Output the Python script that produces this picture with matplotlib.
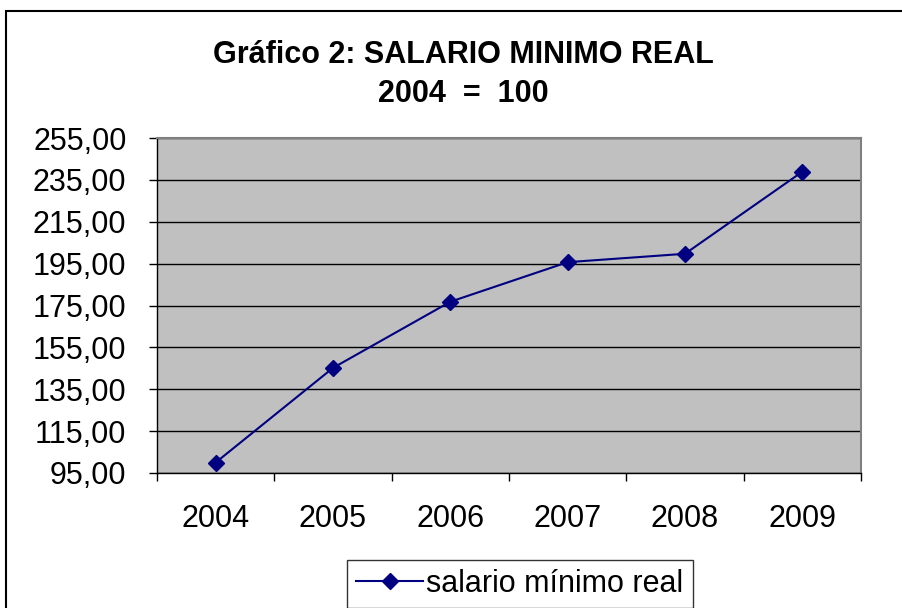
import numpy as np
import matplotlib.pyplot as plt
from matplotlib.patches import Rectangle
from matplotlib.ticker import FuncFormatter, FixedLocator

plt.rcParams['font.family'] = ['Liberation Sans', 'DejaVu Sans']

# datos
years = ['2004', '2005', '2006', '2007', '2008', '2009']
salario = [100.0, 145.2, 176.8, 195.7, 199.7, 238.9]
y_ticks = [95, 115, 135, 155, 175, 195, 215, 235, 255]

fig = plt.figure(figsize=(9.02, 6.08), dpi=100)
ax = fig.add_axes([157/902, 1 - 473/608, (861 - 157)/902, (473 - 138)/608])

x = np.arange(len(years))
ax.plot(x, salario, color='#000080', lw=1.5, marker='D', markersize=8,
        label='salario mínimo real', zorder=3)

ax.set_facecolor('#C0C0C0')
ax.set_xlim(-0.5, len(years) - 0.5)
ax.set_ylim(y_ticks[0], y_ticks[-1])
ax.set_yticks(y_ticks)
ax.yaxis.set_major_formatter(FuncFormatter(lambda v, p: f'{v:.2f}'.replace('.', ',')))
ax.grid(axis='y', color='black', lw=1)
ax.set_axisbelow(True)

ax.set_xticks(x)
ax.set_xticklabels(years)
ax.xaxis.set_minor_locator(FixedLocator(np.arange(-0.5, len(years), 1)))
ax.tick_params(axis='x', which='major', length=0, pad=22, labelsize=22)
ax.tick_params(axis='x', which='minor', length=6, width=1, direction='out')
ax.tick_params(axis='y', length=6, width=1, direction='out', labelsize=22, pad=16)

for s in ['top', 'right']:
    ax.spines[s].set_color('#808080')
    ax.spines[s].set_linewidth(1.5)
for s in ['left', 'bottom']:
    ax.spines[s].set_color('black')
    ax.spines[s].set_linewidth(1)

fig.text(463/902, 1 - 55/608, 'Gráfico 2: SALARIO MINIMO REAL', ha='center', va='center',
         fontsize=22, fontweight='bold')
fig.text(463/902, 1 - 94/608, '2004  =  100', ha='center', va='center',
         fontsize=22, fontweight='bold')

leg = ax.legend(loc='upper left', bbox_to_anchor=(347/902, 1 - 560/608),
                bbox_transform=fig.transFigure, fontsize=22, frameon=True,
                fancybox=False, edgecolor='black', handlelength=2.2,
                borderpad=0.3, borderaxespad=0, handletextpad=0.1)
leg.get_frame().set_linewidth(1)

fig.patches.append(Rectangle((6/902, -0.1), 1.2, 1 - 11/608 + 0.1,
                             transform=fig.transFigure, fill=False,
                             edgecolor='black', lw=1.5))

fig.savefig('out.png', dpi=100)
